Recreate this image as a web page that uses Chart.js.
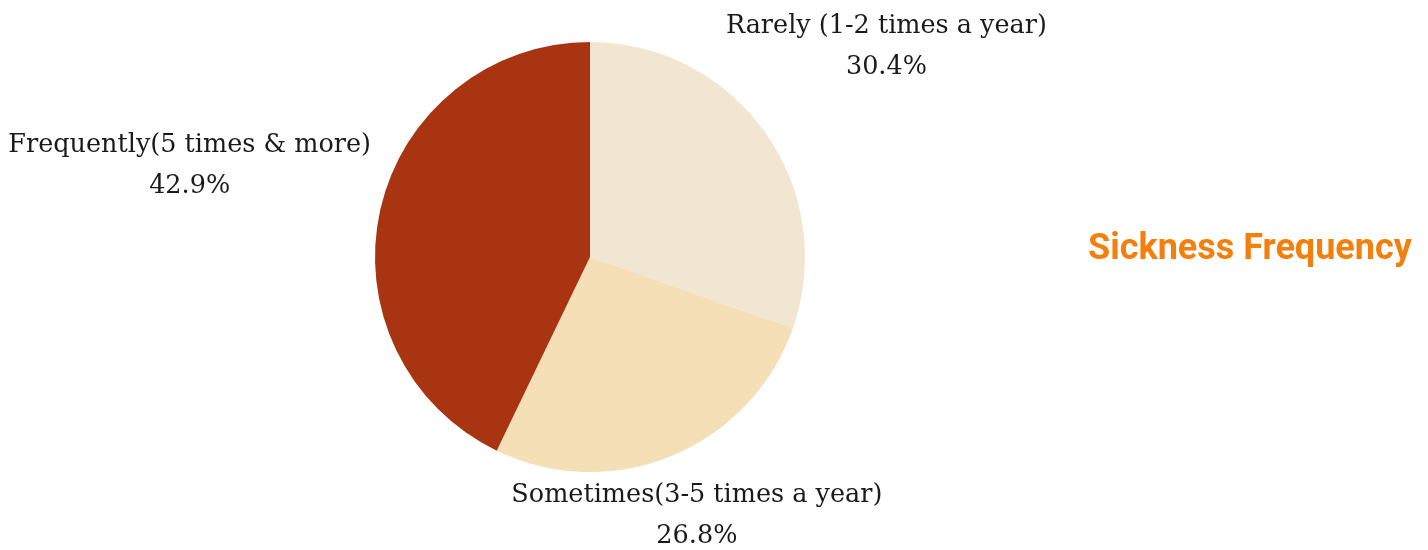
<!DOCTYPE html>
<html lang="en">
<head>
    <meta charset="UTF-8">
    <title>Sickness Frequency</title>
    <script src="https://cdn.jsdelivr.net/npm/chart.js"></script>
    <style>
        html, body { margin: 0; padding: 0; background: #fff; }
        #wrap { position: relative; width: 1428px; height: 550px; }
    </style>
</head>
<body>
    <div id="wrap">
        <canvas id="myChart" width="1428" height="550"></canvas>
    </div>

    <script>
        // answers to "how often do you get sick"
        const categories = ['Rarely (1-2 times a year)', 'Sometimes(3-5 times a year)', 'Frequently(5 times & more)'];
        const shares = [30.4, 26.8, 42.9];
        const sliceColors = ['#F0E6D2', '#F4DFB6', '#A93412'];

        // how far out each label sits, as a multiple of the pie radius
        const labelReach = [1.69, 1.30, 1.91];

        // labels outside the slices: name on one line, share on the next
        const outsideLabels = {
            id: 'outsideLabels',
            afterDatasetsDraw(chart) {
                const ctx = chart.ctx;
                const arcs = chart.getDatasetMeta(0).data;
                ctx.save();
                ctx.fillStyle = '#1a1a1a';
                ctx.font = '25.5px "DejaVu Serif"';
                ctx.textAlign = 'center';
                ctx.textBaseline = 'middle';
                arcs.forEach((arc, i) => {
                    const p = arc.getProps(['x', 'y', 'startAngle', 'endAngle', 'outerRadius'], true);
                    const mid = (p.startAngle + p.endAngle) / 2;
                    const d = p.outerRadius * labelReach[i];
                    const cx = p.x + Math.cos(mid) * d;
                    const cy = p.y + Math.sin(mid) * d;
                    ctx.fillText(categories[i], cx, cy - 20);
                    ctx.fillText(shares[i].toFixed(1) + '%', cx, cy + 21);
                });
                ctx.restore();
            }
        };

        // orange heading on the right side
        const sideTitle = {
            id: 'sideTitle',
            afterDraw(chart) {
                const ctx = chart.ctx;
                ctx.save();
                ctx.fillStyle = '#F57F0C';
                ctx.font = 'bold 36px Roboto';
                ctx.textBaseline = 'middle';
                ctx.fillText('Sickness Frequency', 1088, 250);
                ctx.restore();
            }
        };

        const ctx = document.getElementById('myChart').getContext('2d');
        const myChart = new Chart(ctx, {
            type: 'pie',
            data: {
                labels: categories,
                datasets: [{
                    data: shares,
                    backgroundColor: sliceColors,
                    borderWidth: 0
                }]
            },
            options: {
                responsive: false,
                animation: false,
                layout: {
                    padding: { left: 375, right: 623, top: 42, bottom: 78 }
                },
                plugins: {
                    legend: { display: false },
                    tooltip: { enabled: false }
                }
            },
            plugins: [outsideLabels, sideTitle]
        });
    </script>
</body>
</html>
